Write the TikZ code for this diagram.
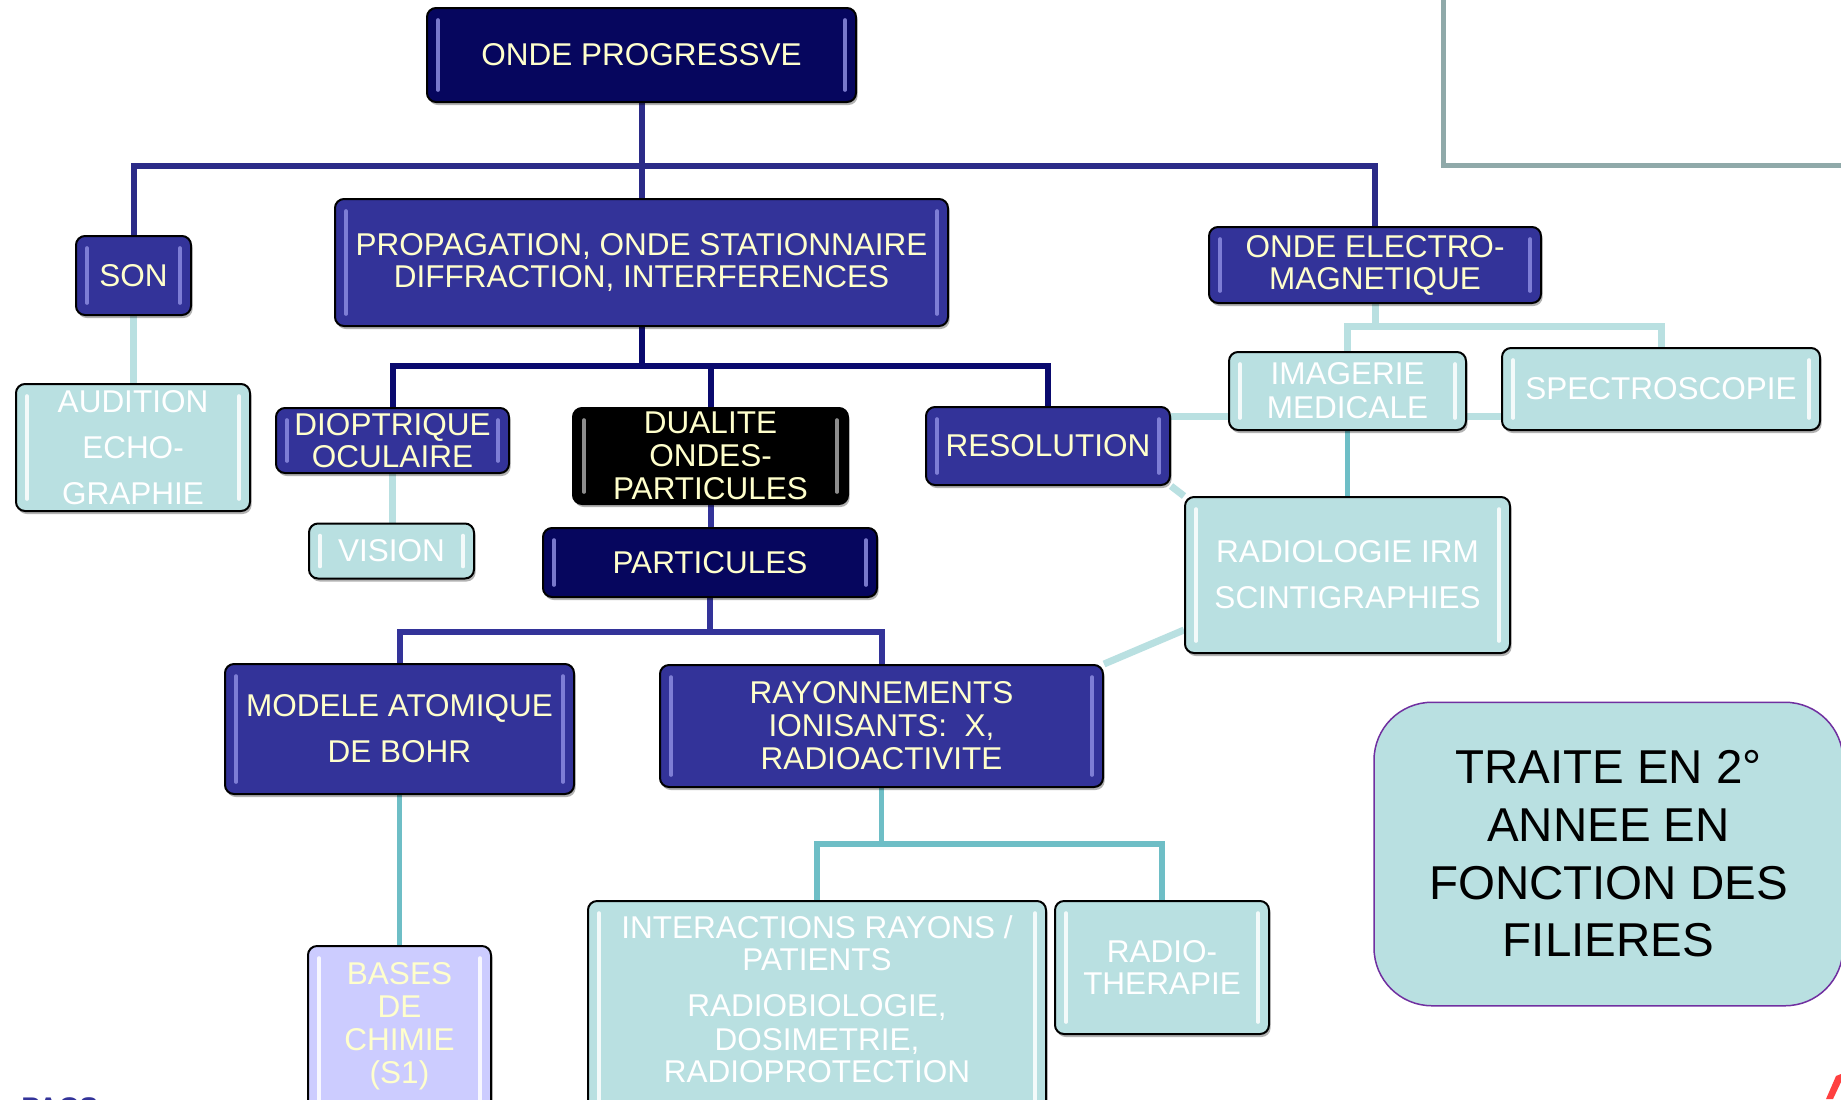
\documentclass[tikz,border=0pt]{standalone}
\usepackage{fontspec}
\setmainfont{Liberation Sans}
\usetikzlibrary{shadows,calc}
\pgfdeclarelayer{bg}
\pgfsetlayers{bg,main}
\definecolor{navyA}{HTML}{06065E}
\definecolor{navyB}{HTML}{333399}
\definecolor{cyanL}{HTML}{B9E0E1}
\definecolor{tealC}{HTML}{6EBEC6}
\definecolor{txtY}{HTML}{FFFFCC}
\definecolor{lavC}{HTML}{CCCCFF}
\definecolor{frameG}{HTML}{8FA9A9}
\definecolor{stripN}{HTML}{8C8CE0}
\definecolor{lineN}{HTML}{2B2B88}
\definecolor{lineD}{HTML}{0A0A6E}
\definecolor{purpC}{HTML}{7030A0}
\newcommand\myfontA{\fontsize{15.75}{16}\selectfont}
\newcommand\myfontB{\fontsize{15.75}{23}\selectfont}
\newcommand\myfontC{\fontsize{15.75}{16.5}\selectfont}
\tikzset{
  gbox/.style={draw=black, line width=1pt, rounded corners=4.5pt, inner sep=0pt,
    align=center, font=\myfontA,
    drop shadow={shadow xshift=0.8pt, shadow yshift=-1.5pt, opacity=0.3, fill=black},
    path picture={
      \draw[line width=1.8pt, line cap=round, draw=#1, draw opacity=0.85]
        ([xshift=5.5pt,yshift=-6pt]path picture bounding box.north west) --
        ([xshift=5.5pt,yshift=6pt]path picture bounding box.south west);
      \draw[line width=1.8pt, line cap=round, draw=#1, draw opacity=0.85]
        ([xshift=-5.5pt,yshift=-6pt]path picture bounding box.north east) --
        ([xshift=-5.5pt,yshift=6pt]path picture bounding box.south east);
    }},
  navybox/.style={gbox=stripN, fill=navyB, text=txtY},
  darkbox/.style={gbox=stripN, fill=navyA, text=txtY},
  blackbox/.style={gbox=gray!70, fill=black, text=txtY},
  cyanbox/.style={gbox=white, fill=cyanL, text=white},
  lavbox/.style={gbox=white, fill=lavC, text=txtY},
  plaintext/.style={inner sep=0pt, align=center},
  lineA/.style={draw=lineN, line width=3pt},
  lineD/.style={draw=lineD, line width=3pt},
  lineB/.style={draw=navyB, line width=3pt},
  lineL/.style={draw=cyanL, line width=3.5pt},
  lineT/.style={draw=tealC, line width=2.75pt},
}
\begin{document}
\begin{tikzpicture}[x=0.5pt,y=-0.5pt]
\useasboundingbox (0,0) rectangle (1841,1099);
\begin{pgfonlayer}{bg}
\fill[white] (0,0) rectangle (1841,1099);
\end{pgfonlayer}
\clip (0,0) rectangle (1841,1099);

% frame top right
\draw[frameG, line width=2.5pt] (1443,-10) -- (1443,165) -- (1860,165);

% nodes
\node[darkbox, minimum width=214.5pt, minimum height=47pt] (op) at (641.5,55) {ONDE PROGRESSVE};
\node[navybox, minimum width=57.5pt, minimum height=39.5pt] (son) at (133.5,275.5) {SON};
\node[navybox, minimum width=306.5pt, minimum height=63.5pt] (prop) at (641.5,262.5) {PROPAGATION, ONDE STATIONNAIRE\\DIFFRACTION, INTERFERENCES};
\node[navybox, minimum width=166pt, minimum height=38pt] (elec) at (1375,265) {ONDE ELECTRO-\\MAGNETIQUE};
\node[cyanbox, font=\myfontB, minimum width=117pt, minimum height=63.5pt] (aud) at (133,447.5) {AUDITION\\ECHO-\\GRAPHIE};
\node[navybox, minimum width=116.5pt, minimum height=32.5pt] (diop) at (392.5,440.5) {DIOPTRIQUE\\OCULAIRE};
\node[blackbox, font=\fontsize{15.75}{16.5}\selectfont, minimum width=137.5pt, minimum height=48pt] (dual) at (710.5,456) {DUALITE\\ONDES-\\PARTICULES};
\node[navybox, minimum width=122pt, minimum height=39pt] (res) at (1048,446) {RESOLUTION};
\node[cyanbox, font=\fontsize{15.75}{17}\selectfont, minimum width=118.5pt, minimum height=39pt] (img) at (1347.5,391) {IMAGERIE\\MEDICALE};
\node[cyanbox, minimum width=159pt, minimum height=41pt] (spec) at (1661,389) {SPECTROSCOPIE};
\node[cyanbox, minimum width=82.5pt, minimum height=27.5pt] (vis) at (391.5,551) {VISION};
\node[darkbox, minimum width=167pt, minimum height=34.5pt] (part) at (710,562.5) {PARTICULES};
\node[cyanbox, font=\myfontB, minimum width=162.5pt, minimum height=78pt] (radio) at (1347.5,575) {RADIOLOGIE IRM\\SCINTIGRAPHIES};
\node[navybox, font=\myfontB, minimum width=174.5pt, minimum height=65pt] (mod) at (399.5,729) {MODELE ATOMIQUE\\DE BOHR};
\node[navybox, font=\myfontC, minimum width=221.5pt, minimum height=61pt] (ray) at (881.5,726) {RAYONNEMENTS\\IONISANTS:\ \ X,\\RADIOACTIVITE};
\node[cyanbox, minimum width=229pt, minimum height=109pt] (inter) at (817,1010) {};
\node[plaintext, text=white, font=\myfontA] (intert) at (817,999) {INTERACTIONS RAYONS /\\PATIENTS\\[7pt]RADIOBIOLOGIE,\\[1pt]DOSIMETRIE,\\RADIOPROTECTION};
\node[cyanbox, minimum width=107pt, minimum height=66.5pt] (rth) at (1162,967.5) {RADIO-\\THERAPIE};
\node[lavbox, minimum width=91.5pt, minimum height=86pt] (bases) at (399.5,1032) {};
\node[plaintext, text=txtY, font=\myfontC] (basest) at (399.5,1026) {BASES\\DE\\CHIMIE\\(S1)};
\node[draw=purpC, line width=0.75pt, fill=cyanL, rounded corners=29pt, inner sep=0pt,
      minimum width=234.5pt, minimum height=151.75pt, align=center,
      font=\fontsize{23.75}{28.85}\selectfont] (traite) at (1608.5,854)
      {TRAITE EN 2°\\ANNEE EN\\FONCTION DES\\FILIERES};
\node[anchor=base west, inner sep=0pt, text=navyB, font=\bfseries\fontsize{14.2}{15}\selectfont] (pacs) at (21,1117) {PACS};
\fill[red!75!white] (1826,1099) -- (1836,1076) -- (1841,1074) -- (1841,1082) -- (1833,1099) -- cycle;

% connectors
\begin{pgfonlayer}{bg}
\coordinate (j1) at (641.5,166);
\draw[lineA] (op.south) -- (j1);
\draw[lineA] (son.north) -- (son.north |- j1) -- (elec.north |- j1) -- (elec.north);
\draw[lineA] (j1) -- (prop.north);

\coordinate (j2) at (641.5,366);
\draw[lineD] (prop.south) -- (j2);
\draw[lineD] (diop.north) -- (diop.north |- j2) -- (res.north |- j2) -- (res.north);
\draw[lineD] (dual.north) -- (dual.north |- j2);

\draw[lineB] (dual.south) -- (dual.south |- part.north);
\coordinate (j3) at (710,632);
\draw[lineB] (part.south) -- (j3);
\draw[lineB] (mod.north) -- (mod.north |- j3) -- (ray.north |- j3) -- (ray.north);

\draw[lineL] (son.south) -- (son.south |- aud.north);
\draw[lineL] (diop.south) -- (diop.south |- vis.north);
\coordinate (j4) at (1375,326);
\draw[lineL] (elec.south) -- (j4);
\draw[lineL] (img.north) -- (img.north |- j4) -- (spec.north |- j4) -- (spec.north);
\coordinate (ry) at (0,416);
\draw[lineL] (res.east |- ry) -- (img.west |- ry);
\draw[lineL] (img.east |- ry) -- (spec.west |- ry);
\draw[lineL] (res.south east) -- (radio.north west);
\coordinate (rr) at (0,630);
\draw[lineL] (radio.west |- rr) -- (ray.north east);

\draw[lineT] (img.south) -- (img.south |- radio.north);
\draw[lineT] (mod.south) -- (mod.south |- bases.north);
\coordinate (j5) at (881.5,844);
\draw[lineT] (ray.south) -- (j5);
\draw[lineT] (inter.north) -- (inter.north |- j5) -- (rth.north |- j5) -- (rth.north);
\end{pgfonlayer}
\end{tikzpicture}
\end{document}
